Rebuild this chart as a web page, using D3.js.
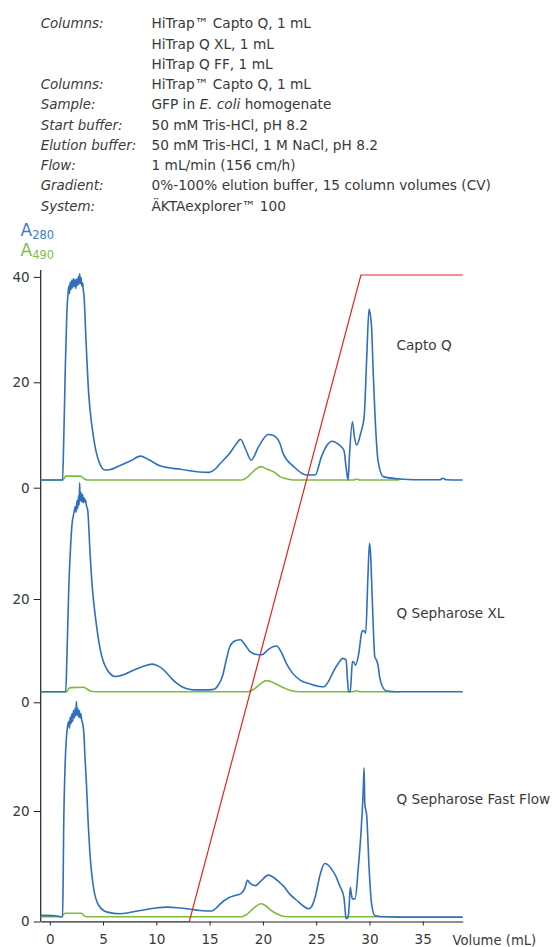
<!DOCTYPE html>
<html>
  <head>
    <meta charset="UTF-8" />
    <style>
      body {
        margin: 0;
        background: #fff;
      }
      svg text {
        font-family: 'DejaVu Sans', sans-serif;
        fill: #3a3a3a;
      }
      .hdr {
        font-size: 13.7px;
      }
      .hdr.key {
        font-style: italic;
        font-size: 13.4px;
      }
      .axis text {
        font-size: 13.6px;
        fill: #3a3a3a;
        font-family: 'DejaVu Sans', sans-serif;
      }
      .axis path,
      .axis line {
        stroke: #222;
      }
    </style>
  </head>
  <body>
    <svg></svg>

    <script src="https://d3js.org/d3.v7.min.js"></script>

    <script>
      // header lines (key, value)
      let headerKeys = ['Columns:', '', '', 'Columns:', 'Sample:', 'Start buffer:', 'Elution buffer:', 'Flow:', 'Gradient:', 'System:']
      let headerValues = [
        'HiTrap™ Capto Q, 1 mL',
        'HiTrap Q XL, 1 mL',
        'HiTrap Q FF, 1 mL',
        'HiTrap™ Capto Q, 1 mL',
        'GFP in |E. coli| homogenate',
        '50 mM Tris-HCl, pH 8.2',
        '50 mM Tris-HCl, 1 M NaCl, pH 8.2',
        '1 mL/min (156 cm/h)',
        '0%-100% elution buffer, 15 column volumes (CV)',
        'ÄKTAexplorer™ 100',
      ]

      let panelNames = ['Capto Q', 'Q Sepharose XL', 'Q Sepharose Fast Flow']
      let xTicks = [0, 5, 10, 15, 20, 25, 30, 35]
      let xDomain = [-0.85, 38.75]

      // [volume mL, absorbance]
      let captoA280 = [
        [-0.85, 1.45], [1.2, 1.45], [1.3, 8], [1.45, 22], [1.6, 33], [1.72, 37],
        [1.8, 38.3], [1.85, 36.8], [1.92, 39.0], [2.0, 37.6], [2.08, 39.4], [2.15, 37.9], [2.22, 39.7],
        [2.3, 38.2], [2.38, 39.5], [2.45, 37.8], [2.52, 39.6], [2.6, 38.4], [2.68, 40.0], [2.75, 38.6],
        [2.8, 40.6], [2.87, 38.8], [2.94, 39.9], [3.0, 38.3], [3.08, 38.9], [3.15, 37.4],
        [3.2, 36.8], [3.4, 28], [3.65, 17.9], [3.97, 11.5], [4.28, 7.5], [4.75, 4.3], [5.2, 3.35],
        [5.6, 3.4], [6.6, 4.2], [7.6, 5.1], [8.5, 6.0], [9.3, 5.3], [10.4, 4.1], [12.25, 3.5],
        [14.9, 2.9], [15.5, 3.5], [16.0, 4.6], [16.9, 6.6], [17.5, 8.3], [17.9, 9.2], [18.4, 7.2],
        [18.9, 5.2], [19.6, 7.8], [20.5, 10.1], [21.0, 9.9], [21.6, 8.4], [21.9, 6.5], [22.9, 4.0],
        [24.1, 2.4], [24.9, 2.4], [25.5, 5.9], [26.0, 8.0], [26.5, 8.8], [27.1, 8.2], [27.6, 7.1],
        [27.8, 4.0], [28.0, 1.45], [28.1, 5.2], [28.4, 12.5], [28.6, 9.5], [28.8, 8.1], [29.2, 10.5],
        [29.5, 13.4], [29.75, 25], [29.96, 33.9], [30.1, 32.5], [30.2, 30.4], [30.35, 22], [30.5, 14.7],
        [30.8, 5.2], [31.3, 2.1], [33.2, 1.6], [35, 1.5], [36.6, 1.5], [36.9, 1.8], [37.2, 1.5], [38.75, 1.45],
      ]
      let captoA490 = [
        [-0.85, 1.45], [1.25, 1.45], [1.4, 2.0], [1.55, 2.2], [2.9, 2.2], [3.05, 2.0], [3.3, 1.6],
        [3.6, 1.45], [18.0, 1.45], [18.5, 1.9], [19.2, 3.3], [19.8, 4.0], [20.3, 3.6], [21.1, 2.9],
        [21.6, 2.1], [22.2, 1.7], [23, 1.45], [28.5, 1.45], [28.8, 1.65], [29.1, 1.45], [32.8, 1.45],
      ]

      let xlA280 = [
        [-0.85, 2.05], [1.5, 2.05], [1.6, 8], [1.78, 21.7], [1.95, 30], [2.1, 34.7], [2.25, 36.5],
        [2.4, 37.9], [2.47, 36.8], [2.55, 39.0], [2.62, 37.5], [2.7, 40.0], [2.76, 38.2], [2.8, 42.5],
        [2.86, 39.0], [2.93, 40.6], [3.0, 38.8], [3.08, 40.2], [3.15, 38.6], [3.22, 39.6], [3.3, 38.8],
        [3.35, 39.2], [3.45, 38.0], [3.56, 37.2],
        [3.8, 28.2], [4.0, 22], [4.28, 16.6], [4.75, 10.1], [5.4, 6.25], [6.16, 5.0], [7.0, 5.4],
        [7.9, 6.25], [8.8, 7.0], [9.6, 7.4], [10.2, 7.0], [10.7, 6.25], [11.3, 4.9], [11.9, 3.7],
        [12.6, 2.8], [13.5, 2.4], [14.5, 2.4], [15.4, 2.5], [15.8, 3.3], [16.2, 5.0], [16.6, 8.5],
        [16.9, 10.8], [17.4, 11.9], [17.9, 12.1], [18.3, 11.2], [18.8, 9.8], [19.3, 9.3], [19.9, 9.2],
        [20.5, 10.2], [21.0, 10.8], [21.3, 10.9], [21.7, 9.8], [22.2, 7.55], [22.8, 5.6], [23.5, 4.3],
        [24.5, 3.5], [25.7, 3.0], [26.2, 4.2], [26.6, 5.9], [27.1, 7.6], [27.5, 8.5], [27.8, 8.2],
        [27.95, 4], [28.05, 2.05], [28.2, 2.05], [28.3, 5], [28.4, 7.9], [28.55, 7.7], [28.7, 7.2],
        [29.0, 9.5], [29.3, 13.7], [29.45, 13.9], [29.65, 13.4], [29.85, 24], [30.0, 30.8], [30.1, 29],
        [30.2, 23.7], [30.35, 15], [30.5, 8.8], [30.65, 8.2], [30.8, 7.2], [30.95, 5], [31.15, 3.35],
        [31.6, 2.2], [32.5, 2.05], [38.75, 2.05],
      ]
      let xlA490 = [
        [-0.85, 2.05], [1.6, 2.05], [1.78, 2.7], [2.0, 2.85], [3.2, 2.9], [3.4, 2.7], [3.8, 2.2],
        [4.2, 2.05], [18.6, 2.05], [19.2, 2.6], [19.8, 3.6], [20.3, 4.2], [20.8, 4.0], [21.6, 3.15],
        [22.2, 2.6], [22.6, 2.3], [23.5, 2.05], [28.5, 2.05], [28.8, 2.25], [29.1, 2.05], [32.8, 2.05],
      ]

      let ffA280 = [
        [-0.85, 1.1], [0.5, 1.05], [1.1, 0.85], [1.2, 0.85], [1.25, 6], [1.3, 15.9], [1.42, 27],
        [1.53, 32.3], [1.65, 35],
        [1.78, 36.2], [1.85, 35.0], [1.92, 37.0], [2.0, 35.8], [2.08, 37.6], [2.15, 36.2], [2.22, 38.2],
        [2.3, 36.8], [2.38, 38.6], [2.45, 37.2], [2.5, 39.8], [2.56, 37.4], [2.63, 38.6], [2.7, 37.0],
        [2.78, 38.2], [2.85, 36.8], [2.92, 37.6], [3.0, 36.4], [3.04, 36.2],
        [3.2, 34.1], [3.3, 30], [3.44, 25], [3.6, 18], [3.75, 12.9], [4.1, 6.2], [4.6, 2.9], [5.4, 1.7],
        [6.6, 1.4], [8.5, 2.0], [9.8, 2.4], [11.0, 2.6], [12.0, 2.5], [12.9, 2.3], [14.1, 2.0],
        [15.2, 1.9], [15.6, 2.4], [16.0, 3.2], [16.8, 4.3], [17.4, 4.7], [17.9, 5.0], [18.3, 6.0],
        [18.55, 7.45], [18.8, 6.9], [19.3, 6.5], [19.9, 7.5], [20.5, 8.4], [20.9, 8.1], [21.6, 7.0],
        [21.9, 6.5], [22.5, 5.0], [23.2, 3.8], [23.8, 2.8], [24.3, 2.3], [24.6, 2.8], [24.9, 4.4],
        [25.4, 8.7], [25.8, 10.5], [26.2, 10.1], [26.5, 9.3], [26.9, 8.0], [27.2, 6.5], [27.6, 4.4],
        [27.72, 2], [27.8, 0.5], [28.0, 0.8], [28.1, 3], [28.2, 6.2], [28.3, 5], [28.4, 4.1],
        [28.65, 4.1], [28.96, 9.9], [29.2, 15.9], [29.4, 23], [29.5, 27.8], [29.56, 21.4], [29.75, 19.0],
        [29.96, 9.9], [30.2, 3.2], [30.5, 1.1], [31.5, 0.85], [32.7, 0.8], [38.75, 0.8],
      ]
      let ffA490 = [
        [-0.85, 0.85], [1.15, 0.85], [1.3, 1.3], [1.47, 1.5], [2.95, 1.5], [3.1, 1.3], [3.35, 0.9],
        [3.6, 0.85], [18.0, 0.85], [18.5, 1.3], [19.2, 2.5], [19.8, 3.2], [20.3, 2.8], [20.7, 2.1],
        [21.3, 1.4], [21.9, 0.95], [22.5, 0.85], [32.8, 0.85],
      ]

      // gradient, % elution buffer
      let gradient = [[-0.85, 0], [13.1, 0], [29.2, 100], [38.75, 100]]

      let a280Series = [captoA280, xlA280, ffA280]
      let a490Series = [captoA490, xlA490, ffA490]
      let yTicksPerPanel = [[0, 20, 40], [0, 20], [0, 20]]

      // layout (pixels)
      let width = 557,
        height = 947
      let axisLeft = 40.7,
        axisRight = 462.7
      let panelY = [
        { y0: 487.7, y20: 382.3 },
        { y0: 702.3, y20: 599 },
        { y0: 921.5, y20: 811 },
      ]
      let blue = '#2f6fbe',
        green = '#7bbd3a',
        red = '#e8231b'

      let svg = d3.select('svg').attr('width', width).attr('height', height)

      // header block
      let hdr = svg.append('g')
      headerKeys.forEach((k, i) => {
        hdr.append('text').attr('class', 'hdr key').attr('x', 40.7).attr('y', 28.3 + i * 20.27).text(k)
      })
      headerValues.forEach((v, i) => {
        let t = hdr.append('text').attr('class', 'hdr').attr('x', 151.5).attr('y', 28.3 + i * 20.27)
        v.split('|').forEach((part, j) => {
          t.append('tspan').style('font-style', j % 2 ? 'italic' : 'normal').text(part)
        })
      })

      // A280 / A490 legend
      let leg = [
        { n: '280', c: '#3b7dcb', y: 236 },
        { n: '490', c: '#7cc043', y: 256 },
      ]
      leg.forEach((d) => {
        let t = svg.append('text').attr('x', 20.5).attr('y', d.y).style('fill', d.c).style('font-size', '17px')
        t.append('tspan').text('A')
        t.append('tspan').attr('dy', 3).style('font-size', '11.5px').style('fill', d.c).text(d.n)
      })

      let x = d3.scaleLinear().domain(xDomain).range([axisLeft, axisRight])

      // y scale for the gradient spans the whole stack
      let yGrad = d3.scaleLinear().domain([0, 100]).range([panelY[2].y0, 275])

      // continuous y axis line
      svg
        .append('line')
        .attr('x1', axisLeft)
        .attr('x2', axisLeft)
        .attr('y1', 270)
        .attr('y2', panelY[2].y0)
        .attr('stroke', '#222')
        .attr('stroke-width', 1.2)

      panelNames.forEach((name, i) => {
        let y = d3.scaleLinear().domain([0, 20]).range([panelY[i].y0, panelY[i].y20])

        let g = svg.append('g')
        g.append('g')
          .attr('class', 'axis')
          .attr('transform', 'translate(' + axisLeft + ',0)')
          .call(d3.axisLeft(y).tickValues(yTicksPerPanel[i]).tickSize(7).tickPadding(4))
          .call((a) => a.select('.domain').remove())

        let line = d3
          .line()
          .x((d) => x(d[0]))
          .y((d) => y(d[1]))
          .curve(d3.curveMonotoneX)

        g.append('path')
          .datum(a490Series[i])
          .attr('d', line)
          .attr('fill', 'none')
          .attr('stroke', green)
          .attr('stroke-width', 1.6)

        g.append('path')
          .datum(a280Series[i])
          .attr('d', line)
          .attr('fill', 'none')
          .attr('stroke', blue)
          .attr('stroke-width', 1.6)
          .attr('stroke-linejoin', 'round')

        g.append('text')
          .attr('x', 396.5)
          .attr('y', [349.5, 617.5, 803.5][i])
          .style('font-size', '13.6px')
          .text(name)
      })

      // x axis
      svg
        .append('g')
        .attr('class', 'axis')
        .attr('transform', 'translate(0,' + panelY[2].y0 + ')')
        .call(d3.axisBottom(x).tickValues(xTicks).tickSize(4).tickPadding(9).tickSizeOuter(0))
        .call((a) => a.select('.domain').attr('stroke-width', 1.2))

      svg
        .append('text')
        .attr('x', 452.5)
        .attr('y', 945)
        .style('font-size', '13.2px')
        .text('Volume (mL)')

      // gradient line
      svg
        .append('path')
        .datum(gradient)
        .attr(
          'd',
          d3
            .line()
            .x((d) => x(d[0]))
            .y((d) => yGrad(d[1]))
        )
        .attr('fill', 'none')
        .attr('stroke', red)
        .attr('stroke-width', 1.2)
    </script>
  </body>
</html>
